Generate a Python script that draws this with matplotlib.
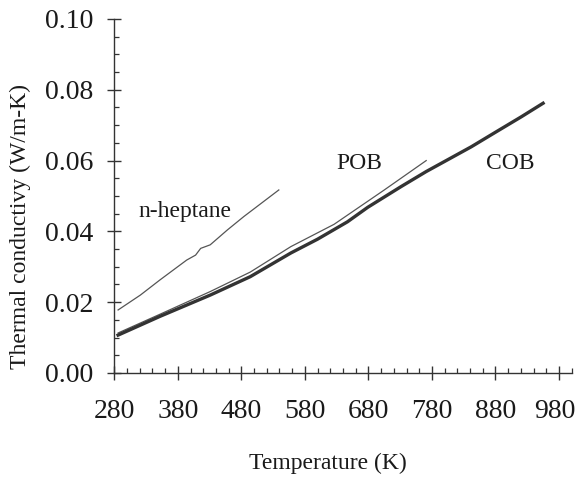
import matplotlib
matplotlib.use("Agg")
import matplotlib.pyplot as plt
import matplotlib.transforms as mtransforms
from matplotlib.ticker import MultipleLocator, FixedLocator

plt.rcParams['font.family'] = ['Liberation Serif', 'DejaVu Serif']

# Data (temperature K, thermal conductivity W/m-K)
cob_T = [286, 352, 431, 494, 558, 600, 647, 679, 731, 771, 842, 880, 921, 955]
cob_k = [0.0107, 0.0160, 0.0220, 0.0272, 0.0339, 0.0378, 0.0427, 0.0468, 0.0526, 0.0569, 0.0639, 0.0680, 0.0724, 0.0762]

pob_T = [286, 352, 431, 494, 558, 626, 705, 771]
pob_k = [0.0113, 0.0166, 0.0230, 0.0285, 0.0357, 0.0420, 0.0517, 0.0600]

hep_T = [286, 321, 352, 394, 408, 416, 431, 458, 484, 539]
hep_k = [0.0178, 0.0220, 0.0263, 0.0319, 0.0333, 0.0352, 0.0362, 0.0404, 0.0442, 0.0517]

x_ticks = [280, 380, 480, 580, 680, 780, 880, 980]
y_ticks = [0.00, 0.02, 0.04, 0.06, 0.08, 0.10]

fig = plt.figure(figsize=(5.76, 4.78), dpi=100)
ax = fig.add_axes([0.1984, 0.2197, 0.7941, 0.7406])

ax.plot(hep_T, hep_k, color='#555555', lw=0.9)
ax.plot(pob_T, pob_k, color='#555555', lw=0.9)
ax.plot(cob_T, cob_k, color='#333333', lw=2.4)

ax.set_xlim(280, 1000)
ax.set_ylim(0, 0.10)
ax.xaxis.set_major_locator(FixedLocator(x_ticks))
ax.xaxis.set_minor_locator(MultipleLocator(20))
ax.yaxis.set_major_locator(FixedLocator(y_ticks))
ax.yaxis.set_minor_locator(MultipleLocator(0.005))
ax.set_yticklabels([f"{v:.2f}" for v in y_ticks])

for s in ['top', 'right']:
    ax.spines[s].set_visible(False)
for s in ['left', 'bottom']:
    ax.spines[s].set_color('#333333')
    ax.spines[s].set_linewidth(1.0)

ax.tick_params(which='major', direction='inout', length=10, width=1.0, color='#333333',
               labelsize=20, labelcolor='#1a1a1a')
ax.tick_params(which='minor', direction='in', length=3.6, width=0.9, color='#333333')
ax.tick_params(axis='y', which='major', pad=10)
ax.tick_params(axis='x', which='major', pad=14)

# nudge the last x tick label slightly left so it stays inside the figure
last = ax.get_xticklabels()[-1]
last.set_transform(last.get_transform() + mtransforms.ScaledTranslation(-4 / 100, 0, fig.dpi_scale_trans))

ax.set_xlabel('Temperature (K)', fontsize=17, color='#1a1a1a')
ax.set_ylabel('Thermal conductivy (W/m-K)', fontsize=17, color='#1a1a1a')
ax.xaxis.set_label_coords(0.466, -0.225)
ax.yaxis.set_label_coords(-0.182, 0.415)

ax.text(391.7, 0.0455, 'n-heptane', fontsize=17, ha='center', va='center', color='#1a1a1a')
ax.text(665.8, 0.0593, 'POB', fontsize=17, ha='center', va='center', color='#1a1a1a')
ax.text(903.5, 0.0593, 'COB', fontsize=17, ha='center', va='center', color='#1a1a1a')

fig.savefig('out.png', dpi=100)
